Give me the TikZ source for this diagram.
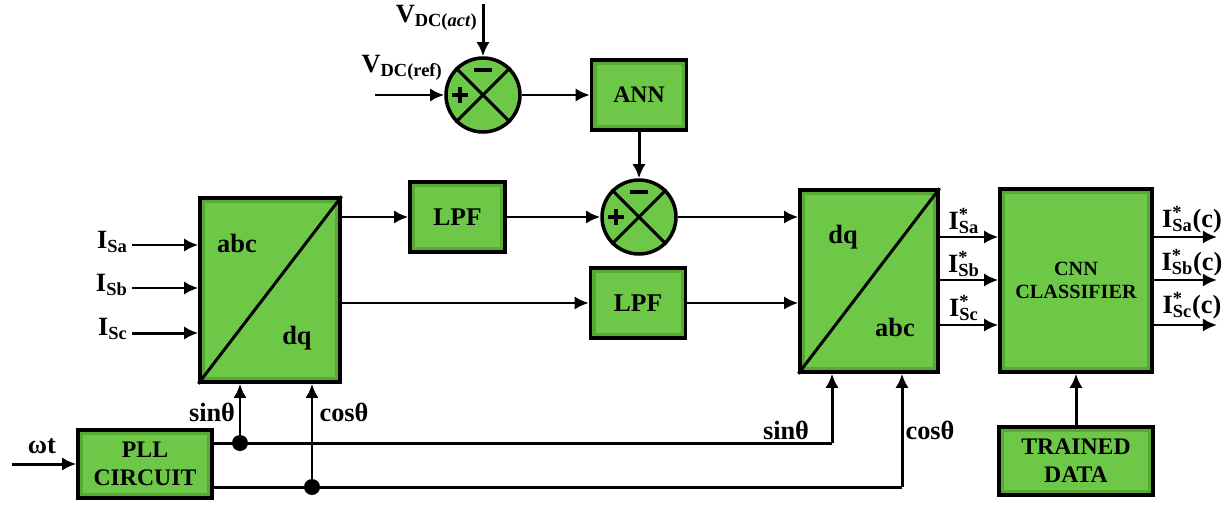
\documentclass[tikz,border=0pt]{standalone}
\usepackage{fontspec}
\setmainfont{Liberation Serif}
\usetikzlibrary{arrows.meta,calc}
\definecolor{boxgreen}{RGB}{108,200,70}
\definecolor{boxedge}{RGB}{88,170,52}
\begin{document}
\begin{tikzpicture}[x=0.02cm,y=-0.02cm,
  conn/.style={line width=1.7pt,-{Latex[length=8pt,width=7.5pt]}},
  wire/.style={line width=1.7pt},
  blk/.style={draw,line width=2pt,fill=boxedge,align=center,inner sep=0pt,
    font=\bfseries\fontsize{14.5}{15}\selectfont,
    path picture={\fill[boxgreen] ($(path picture bounding box.south west)+(5,-5)$) rectangle ($(path picture bounding box.north east)+(-5,5)$);}},
  sumc/.style={circle,draw,line width=2pt,fill=boxgreen,minimum size=1.48cm,inner sep=0pt},
  lbl/.style={font=\bfseries\fontsize{15}{16}\selectfont,inner sep=0pt},
  dotc/.style={circle,fill=black,minimum size=0.32cm,inner sep=0pt}]
\useasboundingbox (0,0) rectangle (1230,504);

% blocks
\node[blk,minimum width=2.8cm,minimum height=3.68cm] (lb) at (270,290) {};
\node[blk,minimum width=2.76cm,minimum height=3.64cm] (rb) at (869,281) {};
\node[blk,minimum width=3.04cm,minimum height=3.66cm,font=\bfseries\fontsize{11.5}{13}\selectfont] (cnn) at (1076,280.5) {CNN\\CLASSIFIER};
\node[blk,minimum width=3.08cm,minimum height=1.36cm,font=\bfseries\fontsize{13.5}{16}\selectfont] (tr) at (1076,461) {TRAINED\\DATA};
\node[blk,minimum width=2.68cm,minimum height=1.36cm,font=\bfseries\fontsize{13.5}{16}\selectfont] (pll) at (145,464) {PLL\\CIRCUIT};
\node[blk,minimum width=1.9cm,minimum height=1.4cm,font=\bfseries\fontsize{13.5}{15}\selectfont] (ann) at (639,95) {ANN};
\node[blk,minimum width=1.9cm,minimum height=1.4cm] (lpf1) at (457.5,217) {LPF};
\node[blk,minimum width=1.9cm,minimum height=1.4cm] (lpf2) at (638,303) {LPF};
\node[sumc] (s1) at (483,95) {};
\node[sumc] (s2) at (639,217) {};

% block diagonals and inner labels
\draw[line width=1.7pt] (lb.south west) -- (lb.north east);
\draw[line width=1.7pt] (rb.south west) -- (rb.north east);
\node[lbl] (lbabc) at (237,243) {abc};
\node[lbl] (lbdq) at (297,338) {dq};
\node[lbl] (rbdq) at (843,237) {dq};
\node[lbl] (rbabc) at (895,327) {abc};

% summing junctions
\foreach \s in {s1,s2}{
  \draw[line width=1.7pt] (\s.45) -- (\s.225) (\s.135) -- (\s.315);
  \draw[line width=2.2pt] ($(\s.center)+(-31,0)$) -- ($(\s.center)+(-15,0)$)
                        ($(\s.center)+(-23,-8)$) -- ($(\s.center)+(-23,8)$);
  \draw[line width=2.4pt] ($(\s.center)+(-9,-25)$) -- ($(\s.center)+(9,-25)$);
}

% top loop
\coordinate (vact) at (483,4);
\coordinate (vref) at (375,95);
\draw[conn] (vact) -- (s1.north);
\draw[conn] (vref) -- (s1.west);
\node[lbl,anchor=east] (lvact) at (478,18) {V\textsubscript{DC(\textit{act})}};
\node[lbl,anchor=east] (lvref) at (443,68) {V\textsubscript{DC(ref)}};
\draw[conn] (s1.east) -- (ann.west);
\draw[conn] (ann.south) -- (s2.north);

% middle path
\draw[conn] (lb.east |- lpf1.west) -- (lpf1.west);
\draw[conn] (lpf1.east) -- (s2.west);
\draw[conn] (s2.east) -- (s2.east -| rb.west);
\draw[conn] (lb.east |- lpf2.west) -- (lpf2.west);
\draw[conn] (lpf2.east) -- (lpf2.east -| rb.west);

% left inputs
\coordinate (ia) at (132,245);
\coordinate (ib) at (132,288);
\coordinate (ic) at (132,333);
\draw[conn] (ia) -- (ia -| lb.west);
\draw[conn] (ib) -- (ib -| lb.west);
\draw[conn] (ic) -- (ic -| lb.west);
\node[lbl,anchor=east] (lia) at (128,242) {I\textsubscript{Sa}};
\node[lbl,anchor=east] (lib) at (128,285) {I\textsubscript{Sb}};
\node[lbl,anchor=east] (lic) at (128,329) {I\textsubscript{Sc}};

% right block to CNN
\coordinate (oa) at (1217,237);
\coordinate (ob) at (1217,280);
\coordinate (oc) at (1217,325);
\draw[conn] (oa -| rb.east) -- (oa -| cnn.west);
\draw[conn] (ob -| rb.east) -- (ob -| cnn.west);
\draw[conn] (oc -| rb.east) -- (oc -| cnn.west);
\draw[conn] (oa -| cnn.east) -- (oa);
\draw[conn] (ob -| cnn.east) -- (ob);
\draw[conn] (oc -| cnn.east) -- (oc);
\node[lbl] (lsa) at (964,221) {I\rlap{\textsuperscript{*}}\textsubscript{Sa}};
\node[lbl] (lsb) at (964,264) {I\rlap{\textsuperscript{*}}\textsubscript{Sb}};
\node[lbl] (lsc) at (964,308) {I\rlap{\textsuperscript{*}}\textsubscript{Sc}};
\node[lbl] (lca) at (1192,220) {I\rlap{\textsuperscript{*}}\textsubscript{Sa}(c)};
\node[lbl] (lcb) at (1192,263) {I\rlap{\textsuperscript{*}}\textsubscript{Sb}(c)};
\node[lbl] (lcc) at (1192,306) {I\rlap{\textsuperscript{*}}\textsubscript{Sc}(c)};
\draw[conn] (tr.north) -- (cnn.south);

% PLL and angle signals
\coordinate (wt) at (12,464);
\draw[conn] (wt) -- (pll.west);
\node[lbl] (lwt) at (42,446) {ωt};
\coordinate (j1) at (240,443);
\coordinate (j2) at (312,487);
\coordinate (rs) at (832,443);
\coordinate (rc) at (902,487);
\draw[wire] (pll.east |- j1) -- (rs);
\draw[wire] (pll.east |- j2) -- (rc);
\draw[conn] (rs) -- (rs |- rb.south);
\draw[conn] (rc) -- (rc |- rb.south);
\draw[conn] (j1) -- (j1 |- lb.south);
\draw[conn] (j2) -- (j2 |- lb.south);
\node[dotc] (d1) at (j1) {};
\node[dotc] (d2) at (j2) {};
\node[lbl] (ls1) at (212,412) {sinθ};
\node[lbl] (lc1) at (344,412) {cosθ};
\node[lbl] (ls2) at (786,430) {sinθ};
\node[lbl] (lc2) at (930,430) {cosθ};
\end{tikzpicture}
\end{document}
